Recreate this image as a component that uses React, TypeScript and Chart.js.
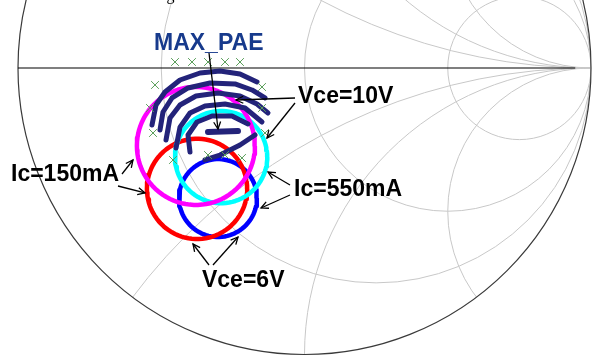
import { useEffect, useRef } from "react";
import { Chart, registerables } from "chart.js";

Chart.register(...registerables);

// Smith chart grid values
const resistanceCircles = [1 / 3, 1, 3];
const reactanceArcs = [0.5, 1, 2];

// PAE contour segments (reflection coefficient: re, im)
const paeContour1 = [
  { x: -0.5323, y: -0.199 }, { x: -0.5183, y: -0.1291 }, { x: -0.4869, y: -0.0838 },
  { x: -0.4346, y: -0.0419 }, { x: -0.3648, y: -0.0175 }, { x: -0.2949, y: -0.0105 },
  { x: -0.2251, y: -0.0209 }, { x: -0.1658, y: -0.0489 },
];
const paeContour2 = [
  { x: -0.5044, y: -0.2164 }, { x: -0.4939, y: -0.1536 }, { x: -0.4625, y: -0.1047 },
  { x: -0.4066, y: -0.0698 }, { x: -0.3298, y: -0.0524 }, { x: -0.2426, y: -0.0558 },
  { x: -0.1832, y: -0.0768 }, { x: -0.1379, y: -0.1047 },
];
const paeContour3 = [
  { x: -0.4834, y: -0.2513 }, { x: -0.4695, y: -0.1745 }, { x: -0.4346, y: -0.1291 },
  { x: -0.3787, y: -0.0977 }, { x: -0.3019, y: -0.0873 }, { x: -0.2251, y: -0.0977 },
  { x: -0.1658, y: -0.1257 }, { x: -0.1274, y: -0.1571 },
];
const paeContour4 = [
  { x: -0.4485, y: -0.2792 }, { x: -0.4346, y: -0.2063 }, { x: -0.3997, y: -0.1571 },
  { x: -0.3473, y: -0.1326 }, { x: -0.2775, y: -0.1257 }, { x: -0.2077, y: -0.1396 },
  { x: -0.1483, y: -0.1885 },
];
const paeContour5a = [
  { x: -0.3997, y: -0.2932 }, { x: -0.4066, y: -0.2339 }, { x: -0.3752, y: -0.1885 },
  { x: -0.3229, y: -0.1675 }, { x: -0.2531, y: -0.1675 }, { x: -0.1972, y: -0.1955 },
];
const paeContour5b = [
  { x: -0.3473, y: -0.3211 }, { x: -0.2949, y: -0.3037 }, { x: -0.2251, y: -0.2688 }, { x: -0.1728, y: -0.2339 },
];
const maxPae = [{ x: -0.3368, y: -0.2234 }, { x: -0.2321, y: -0.2199 }];

// load-pull sample points
const samplePoints = [
  { x: -0.452, y: 0.0209 }, { x: -0.3927, y: 0.0209 }, { x: -0.3368, y: 0.0209 },
  { x: -0.2775, y: 0.0209 }, { x: -0.2251, y: 0.0209 },
  { x: -0.5218, y: -0.0593 }, { x: -0.1483, y: -0.0663 },
  { x: -0.5393, y: -0.1396 }, { x: -0.1483, y: -0.1396 },
  { x: -0.5288, y: -0.2269 }, { x: -0.1379, y: -0.2269 },
  { x: -0.459, y: -0.3211 }, { x: -0.3368, y: -0.3037 }, { x: -0.2775, y: -0.3037 }, { x: -0.2182, y: -0.3141 },
];

// circles: centre (re, im) and radius in reflection-coefficient units
const circleLabels = ["Vce=10V Ic=150mA", "Vce=10V Ic=550mA", "Vce=6V Ic=150mA", "Vce=6V Ic=550mA"];
const circleCentres = [[-0.379, -0.272], [-0.291, -0.311], [-0.375, -0.422], [-0.302, -0.454]];
const circleRadii = [0.206, 0.161, 0.175, 0.136];
const circleColors = ["#ff00ff", "#00ffff", "#ff0000", "#0000ff"];

// annotation texts (baseline-left anchor, reflection-coefficient units)
const labelTexts = ["MAX_PAE", "Vce=10V", "Ic=550mA", "Ic=150mA", "Vce=6V"];
const labelAnchors = [[-0.5253, 0.0628], [-0.0227, -0.1239], [-0.0366, -0.4468], [-1.0244, -0.3944], [-0.3578, -0.7644]];
const labelColors = ["#173a8c", "#000", "#000", "#000", "#000"];

// arrows: from -> to
const arrows = [
  [[-0.3333, 0.0524], [-0.3019, -0.2129]],
  [[-0.0332, -0.1047], [-0.2391, -0.1117]],
  [[-0.0332, -0.1222], [-0.1309, -0.2443]],
  [[-0.0506, -0.4084], [-0.1274, -0.363]],
  [[-0.0506, -0.4433], [-0.1518, -0.4887]],
  [[-0.637, -0.37], [-0.5986, -0.3211]],
  [[-0.651, -0.4119], [-0.5567, -0.4363]],
  [[-0.3333, -0.6876], [-0.3892, -0.6143]],
  [[-0.3194, -0.6876], [-0.2321, -0.5899]],
];

function circlePoints(c: number[], r: number) {
  const pts = [];
  for (let i = 0; i <= 90; i++) {
    const a = (i / 90) * Math.PI * 2;
    pts.push({ x: c[0] + r * Math.cos(a), y: c[1] + r * Math.sin(a) });
  }
  return pts;
}

const smithGrid = {
  id: "smithGrid",
  beforeDatasetsDraw(chart: any) {
    const { ctx } = chart;
    const xs = chart.scales.x, ys = chart.scales.y;
    const px = (v: number) => xs.getPixelForValue(v);
    const py = (v: number) => ys.getPixelForValue(v);
    const unit = px(1) - px(0);
    ctx.save();
    ctx.beginPath();
    ctx.arc(px(0), py(0), unit, 0, Math.PI * 2);
    ctx.clip();
    ctx.strokeStyle = "#c8c8c8";
    ctx.lineWidth = 1;
    resistanceCircles.forEach((r) => {
      ctx.beginPath();
      ctx.arc(px(r / (1 + r)), py(0), unit / (1 + r), 0, Math.PI * 2);
      ctx.stroke();
    });
    reactanceArcs.forEach((b) => {
      [1, -1].forEach((s) => {
        ctx.beginPath();
        ctx.arc(px(1), py(s / b), unit / b, 0, Math.PI * 2);
        ctx.stroke();
      });
    });
    ctx.restore();
    ctx.save();
    ctx.strokeStyle = "#3a3a3a";
    ctx.lineWidth = 1.2;
    ctx.beginPath();
    ctx.arc(px(0), py(0), unit, 0, Math.PI * 2);
    ctx.stroke();
    ctx.strokeStyle = "#000";
    ctx.lineWidth = 1.2;
    ctx.beginPath();
    ctx.moveTo(px(-1), py(0));
    ctx.lineTo(px(0.945), py(0));
    ctx.stroke();
    ctx.restore();
  },
  afterDatasetsDraw(chart: any) {
    const { ctx } = chart;
    const xs = chart.scales.x, ys = chart.scales.y;
    const px = (v: number) => xs.getPixelForValue(v);
    const py = (v: number) => ys.getPixelForValue(v);
    ctx.save();
    ctx.strokeStyle = "#000";
    ctx.fillStyle = "#000";
    ctx.lineWidth = 1.3;
    arrows.forEach(([a, b]) => {
      const x0 = px(a[0]), y0 = py(a[1]), x1 = px(b[0]), y1 = py(b[1]);
      ctx.beginPath();
      ctx.moveTo(x0, y0);
      ctx.lineTo(x1, y1);
      ctx.stroke();
      const ang = Math.atan2(y1 - y0, x1 - x0);
      const L = 8, A = 0.45;
      ctx.beginPath();
      ctx.moveTo(x1 - L * Math.cos(ang - A), y1 - L * Math.sin(ang - A));
      ctx.lineTo(x1, y1);
      ctx.lineTo(x1 - L * Math.cos(ang + A), y1 - L * Math.sin(ang + A));
      ctx.stroke();
    });
    ctx.font = "bold 23px 'Liberation Sans', Arial, sans-serif";
    ctx.textBaseline = "alphabetic";
    ctx.textAlign = "left";
    labelTexts.forEach((t, i) => {
      ctx.fillStyle = labelColors[i];
      ctx.fillText(t, px(labelAnchors[i][0]), py(labelAnchors[i][1]));
    });
    ctx.font = "16px 'Liberation Serif', serif";
    ctx.fillStyle = "#000";
    ctx.fillText("simulated as seen in Figure", px(-0.99), py(0.2365));
    ctx.restore();
  },
};

export default function App() {
  const ref = useRef<HTMLCanvasElement>(null);
  useEffect(() => {
    document.body.style.margin = "0";
    const contourStyle = {
      showLine: true, pointRadius: 0, borderColor: "#23237a", borderWidth: 5,
      borderCapStyle: "round", borderJoinStyle: "round", fill: false,
    };
    const datasets: any[] = [
      { label: "samples", data: samplePoints, showLine: false, pointStyle: "crossRot", pointRadius: 5.5,
        borderColor: "#5a9e5a", backgroundColor: "#5a9e5a", borderWidth: 1 },
      { label: "PAE1", data: paeContour1, ...contourStyle },
      { label: "PAE2", data: paeContour2, ...contourStyle },
      { label: "PAE3", data: paeContour3, ...contourStyle },
      { label: "PAE4", data: paeContour4, ...contourStyle },
      { label: "PAE5a", data: paeContour5a, ...contourStyle },
      { label: "PAE5b", data: paeContour5b, ...contourStyle },
      { label: "MAX_PAE", data: maxPae, ...contourStyle, borderWidth: 6 },
    ];
    circleLabels.forEach((l, i) => {
      datasets.push({
        label: l, data: circlePoints(circleCentres[i], circleRadii[i]), showLine: true, pointRadius: 0,
        borderColor: circleColors[i], borderWidth: 4.5, borderJoinStyle: "round", fill: false,
      });
    });
    const chart = new Chart(ref.current!, {
      type: "scatter",
      data: { datasets },
      options: {
        animation: false,
        responsive: false,
        maintainAspectRatio: false,
        layout: { padding: 0, autoPadding: false },
        plugins: { legend: { display: false }, tooltip: { enabled: false } },
        scales: {
          x: { type: "linear", min: -1.0628, max: 1.0209, display: false },
          y: { type: "linear", min: -1.0227, max: 0.2373, display: false },
        },
      },
      plugins: [smithGrid],
    } as any);
    return () => chart.destroy();
  }, []);
  return <canvas ref={ref} width={597} height={361} style={{ display: "block" }} />;
}
